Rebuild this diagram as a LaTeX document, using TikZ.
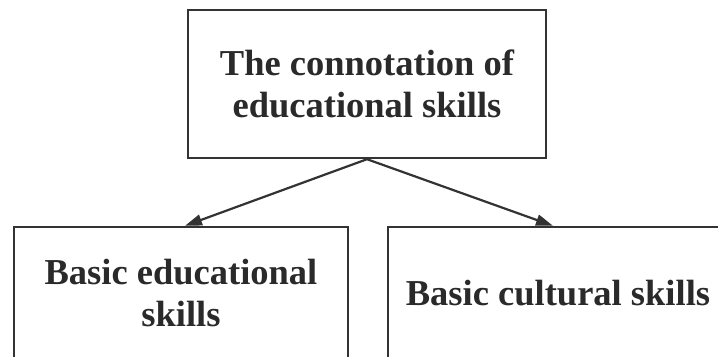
\documentclass[tikz,border=0pt]{standalone}
\usepackage{fontspec}
\setmainfont{Liberation Serif}
\usetikzlibrary{arrows.meta}
\definecolor{ink}{HTML}{333333}
\definecolor{txt}{HTML}{2A2A2A}
\tikzset{
  box/.style={draw=ink, line width=2.4bp, fill=white, inner sep=0pt,
    align=center, text=txt,
    font={\fontsize{36.5bp}{42bp}\selectfont\bfseries}},
  link/.style={draw=ink, line width=2.2bp,
    -{Triangle[length=17bp,width=11bp]}}
}
\begin{document}
\begin{tikzpicture}[x=1bp,y=-1bp]
  \useasboundingbox (0,0) rectangle (718,356);
  \clip (0,0) rectangle (718,356);
  % parent concept
  \node[box, minimum width=358bp, minimum height=148bp] (top) at (367,84)
    {The connotation of\\educational skills};
  % the two components (lower edges run past the frame)
  \node[box, minimum width=334bp, minimum height=132bp] (left) at (181,293)
    {Basic educational\\skills};
  \node[box, minimum width=340bp, minimum height=132bp] (right) at (558,293)
    {Basic cultural skills};
  % connectors
  \draw[link] (top.south) -- ([xshift=4bp]left.north);
  \draw[link] (top.south) -- ([xshift=-5bp]right.north);
\end{tikzpicture}
\end{document}
